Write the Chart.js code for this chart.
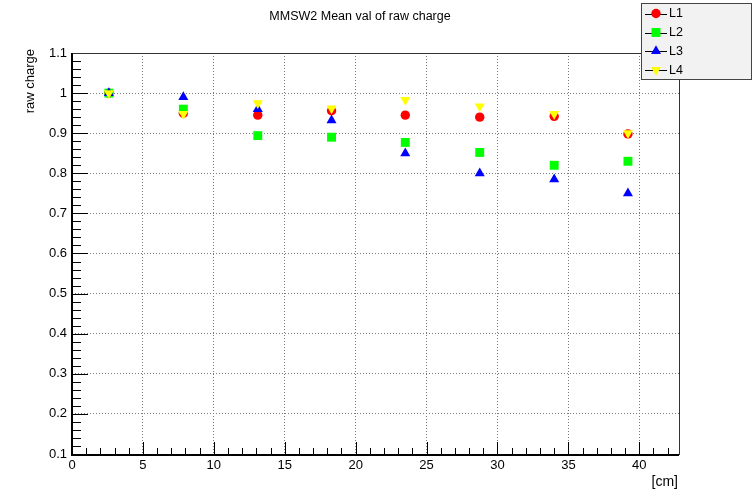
<!DOCTYPE html>
<html>
<head>
<meta charset="utf-8">
<title>MMSW2 Mean val of raw charge</title>
<script src="https://cdn.jsdelivr.net/npm/chart.js@4/dist/chart.umd.min.js"></script>
<style>
    html, body { margin: 0; padding: 0; background: #fff; }
    #wrap { width: 753px; height: 492px; }
</style>
</head>
<body>
<div id="wrap"><canvas id="chargeChart"></canvas></div>
<script>
// strip positions along the chamber [cm]
const positions = [2.6, 7.85, 13.1, 18.3, 23.5, 28.75, 34.0, 39.2];

// mean raw charge per layer, normalised to the first position
const layer1 = [1.000, 0.950, 0.945, 0.956, 0.945, 0.940, 0.942, 0.898];
const layer2 = [1.000, 0.960, 0.894, 0.890, 0.877, 0.852, 0.820, 0.830];
const layer3 = [1.000, 0.990, 0.960, 0.932, 0.850, 0.800, 0.785, 0.750];
const layer4 = [1.000, 0.948, 0.975, 0.962, 0.983, 0.967, 0.948, 0.900];

const layerNames = ['L1', 'L2', 'L3', 'L4'];
const xTicks = [0, 5, 10, 15, 20, 25, 30, 35, 40];
const yTicks = [0.1, 0.2, 0.3, 0.4, 0.5, 0.6, 0.7, 0.8, 0.9, 1.0, 1.1];

const FONT = '"Liberation Sans", Arial, sans-serif';

const toPoints = ys => positions.map((x, i) => ({ x: x, y: ys[i] }));

const markers = [
    { color: '#ff0000', style: 'circle', radius: 4.7, rotation: 0 },
    { color: '#00ff00', style: 'rect', radius: 6.3, rotation: 0 },
    { color: '#0000ff', style: 'triangle', radius: 5.8, rotation: 0 },
    { color: '#ffff00', style: 'triangle', radius: 5.8, rotation: 180 }
];

const datasets = [layer1, layer2, layer3, layer4].map((ys, i) => ({
    label: layerNames[i],
    data: toPoints(ys),
    pointStyle: markers[i].style,
    pointRadius: markers[i].radius,
    pointHoverRadius: markers[i].radius,
    pointRotation: markers[i].rotation,
    pointBackgroundColor: markers[i].color,
    pointBorderColor: markers[i].color,
    pointBorderWidth: 0,
    showLine: false,
    order: 4 - i
}));

// frame, inner tick marks, titles and the boxed legend
const decorations = {
    id: 'decorations',
    afterDatasetsDraw(chart) {
        const { ctx, chartArea: a, scales: { x, y } } = chart;
        ctx.save();

        // ticks pointing into the frame
        ctx.strokeStyle = '#000';
        ctx.lineWidth = 1;
        ctx.beginPath();
        for (let v = 0.1; v <= 1.1001; v += 0.02) {
            const py = Math.round(y.getPixelForValue(v)) + 0.5;
            const major = Math.abs(v * 10 - Math.round(v * 10)) < 1e-6;
            ctx.moveTo(a.left, py);
            ctx.lineTo(a.left + (major ? 16 : 9), py);
        }
        for (let v = 0; v <= 42; v += 1) {
            const px = Math.round(x.getPixelForValue(v)) + 0.5;
            const major = v % 5 === 0;
            ctx.moveTo(px, a.bottom);
            ctx.lineTo(px, a.bottom - (major ? 12 : 6));
        }
        ctx.stroke();

        // frame
        ctx.lineWidth = 1;
        ctx.strokeStyle = '#333';
        ctx.strokeRect(Math.round(a.left) + 0.5, Math.round(a.top) + 0.5,
            Math.round(a.right - a.left), Math.round(a.bottom - a.top));
        ctx.strokeStyle = '#000';
        ctx.lineWidth = 2;
        ctx.beginPath();
        ctx.moveTo(a.left, a.top);
        ctx.lineTo(a.left, a.bottom + 1);
        ctx.lineTo(a.right, a.bottom + 1);
        ctx.stroke();

        // titles
        ctx.fillStyle = '#000';
        ctx.font = '12.5px ' + FONT;
        ctx.textAlign = 'center';
        ctx.textBaseline = 'middle';
        ctx.fillText('MMSW2 Mean val of raw charge', 360, 17);

        ctx.font = '14px ' + FONT;
        ctx.textAlign = 'right';
        ctx.fillText('[cm]', a.right - 1, 482);

        ctx.save();
        ctx.font = '13px ' + FONT;
        ctx.translate(30, 0);
        ctx.rotate(-Math.PI / 2);
        ctx.textAlign = 'right';
        ctx.fillText('raw charge', -49, 0);
        ctx.restore();

        // legend
        const box = { left: 641.5, top: 3.5, right: 751.5, bottom: 79.5 };
        ctx.fillStyle = '#f2f2f2';
        ctx.fillRect(box.left, box.top, box.right - box.left, box.bottom - box.top);
        ctx.strokeStyle = '#444';
        ctx.lineWidth = 1;
        ctx.strokeRect(box.left, box.top, box.right - box.left, box.bottom - box.top);

        const rows = [13.5, 32.5, 51, 70];
        chart.data.datasets.forEach((ds, i) => {
            const ry = rows[i];
            ctx.strokeStyle = '#000';
            ctx.lineWidth = 1;
            ctx.beginPath();
            ctx.moveTo(645, Math.round(ry) + 0.5);
            ctx.lineTo(667, Math.round(ry) + 0.5);
            ctx.stroke();
            ctx.fillStyle = ds.pointBackgroundColor;
            ctx.strokeStyle = ds.pointBorderColor;
            Chart.helpers.drawPoint(ctx, {
                pointStyle: ds.pointStyle,
                rotation: ds.pointRotation,
                radius: ds.pointRadius,
                borderWidth: 0
            }, 656, ry);
            ctx.fillStyle = '#000';
            ctx.font = '12.5px ' + FONT;
            ctx.textAlign = 'left';
            ctx.textBaseline = 'middle';
            ctx.fillText(ds.label, 669, ry + 0.5);
        });

        ctx.restore();
    }
};

const gridStyle = {
    color: '#7a7a7a',
    lineWidth: 1,
    drawTicks: false
};

new Chart(document.getElementById('chargeChart'), {
    type: 'scatter',
    data: { datasets: datasets },
    options: {
        responsive: true,
        maintainAspectRatio: false,
        animation: false,
        layout: { padding: { top: 53, right: 74, left: 0, bottom: 0 } },
        plugins: {
            legend: { display: false },
            tooltip: { enabled: false },
            title: { display: false }
        },
        scales: {
            x: {
                type: 'linear',
                min: 0,
                max: 42.8,
                afterBuildTicks: s => { s.ticks = xTicks.map(v => ({ value: v })); },
                afterFit: s => { s.height = 38; },
                grid: gridStyle,
                border: { display: false, dash: [1, 2] },
                ticks: {
                    padding: 4,
                    color: '#000',
                    font: { family: FONT, size: 13 },
                    maxRotation: 0,
                    autoSkip: false
                }
            },
            y: {
                type: 'linear',
                min: 0.1,
                max: 1.1,
                afterBuildTicks: s => { s.ticks = yTicks.map(v => ({ value: v })); },
                afterFit: s => { s.width = 72; },
                grid: gridStyle,
                border: { display: false, dash: [1, 2] },
                ticks: {
                    padding: 5,
                    color: '#000',
                    font: { family: FONT, size: 13 },
                    autoSkip: false,
                    callback: v => String(Number(v.toFixed(1)))
                }
            }
        }
    },
    plugins: [decorations]
});
</script>
</body>
</html>
